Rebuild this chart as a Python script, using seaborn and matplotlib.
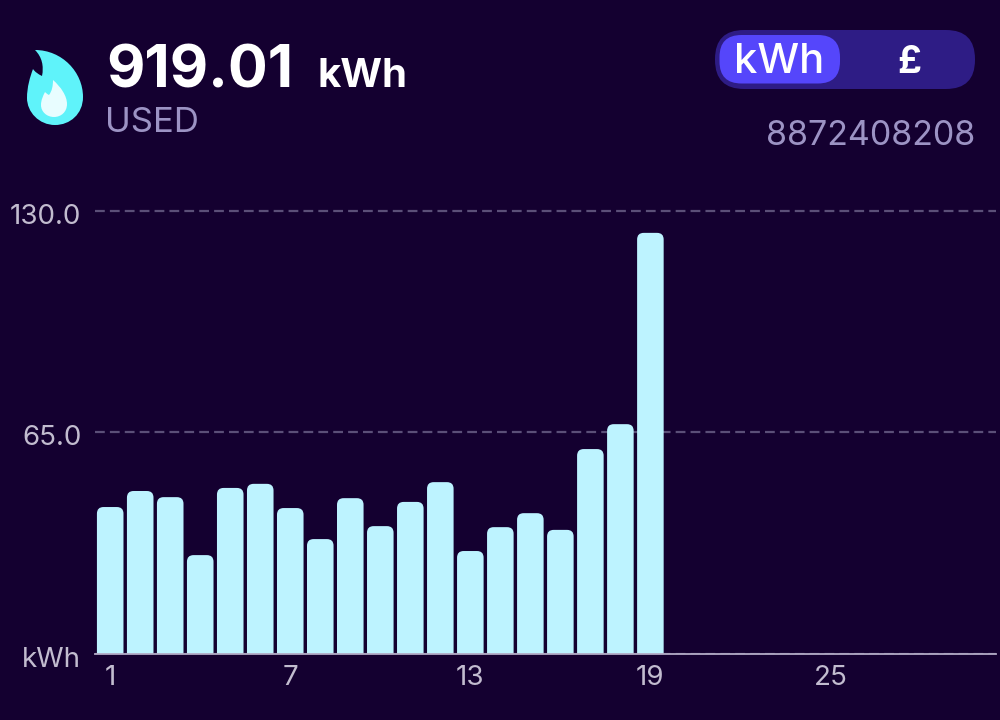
import matplotlib
matplotlib.use("Agg")
import matplotlib.pyplot as plt
from matplotlib.patches import FancyBboxPatch, PathPatch
from matplotlib.path import Path
from matplotlib.transforms import ScaledTranslation
import numpy as np
import pandas as pd
import seaborn as sns

# daily usage, month not finished yet so the last days are empty
days = [str(d) for d in range(1, 31)]
usage = [43.1, 47.8, 46.0, 29.0, 48.7, 49.9, 42.8, 33.7, 45.7, 37.5,
         44.6, 50.4, 30.2, 37.2, 41.3, 36.4, 60.1, 67.4, 123.5,
         np.nan, np.nan, np.nan, np.nan, np.nan, np.nan, np.nan, np.nan, np.nan, np.nan, np.nan]
y_ticks = [0, 65, 130]
y_labels = ["kWh", "65.0", "130.0"]
x_labels = ["1", "7", "13", "19", "25"]

total = "919.01"
unit = "kWh"
used_label = "USED"
meter = "8872408208"
toggle_labels = ["kWh", "£"]

BG = "#140030"
BAR = "#bdf3ff"
MUTED = "#9c93c4"
TICK = "#c2bccf"
GRID = "#5b4f78"

sns.set_theme(style="dark", rc={"figure.facecolor": BG, "axes.facecolor": BG})
plt.rcParams["font.family"] = ["Inter", "DejaVu Sans"]

df = pd.DataFrame({"day": days, "usage": usage})

fig = plt.figure(figsize=(10, 7.2), dpi=100)

# pixel overlay for the header stuff
W, H = 1000, 720
bg = fig.add_axes([0, 0, 1, 1], zorder=0)
bg.set_xlim(0, W)
bg.set_ylim(H, 0)
bg.axis("off")

ax = fig.add_axes([95.2 / W, 1 - 654 / H, (995.5 - 95.2) / W, (654 - 205) / H], zorder=1)
ax.patch.set_alpha(0)
sns.barplot(data=df, x="day", y="usage", color=BAR, width=0.885, saturation=1, ax=ax)
ax.set_xlim(-0.5, 29.5)
ax.set_ylim(0, 449 / 3.41)

# swap the square bars for rounded ones, bottoms hidden below the axis
aspect = (30.0 / 3.41)
for p in list(ax.patches):
    x, w, h = p.get_x(), p.get_width(), p.get_height()
    p.remove()
    if np.isnan(h):
        continue
    ax.add_patch(FancyBboxPatch((x, -5), w, h + 5, boxstyle="round,pad=0,rounding_size=0.22",
                                mutation_aspect=aspect, fc=BAR, ec="none", zorder=3))

ax.set_xlabel("")
ax.set_ylabel("")
ax.set_yticks(y_ticks)
ax.set_yticklabels(y_labels, color=TICK, fontsize=20)
ax.set_xticks([days.index(l) for l in x_labels])
ax.set_xticklabels(x_labels, color=TICK, fontsize=20)
ax.tick_params(axis="both", length=0)
ax.tick_params(axis="x", pad=8)
ax.tick_params(axis="y", pad=10)
# labels sit a little under their lines in the original
shift = ScaledTranslation(0, -3 / 100, fig.dpi_scale_trans)
for t in ax.get_yticklabels():
    t.set_transform(t.get_transform() + shift)
ax.yaxis.grid(True, color=GRID, linestyle=(0, (4.4, 2.3)), linewidth=1.6)
ax.xaxis.grid(False)
ax.set_axisbelow(True)
for s in ["top", "left", "right"]:
    ax.spines[s].set_visible(False)
ax.spines["bottom"].set_color("#b3abc6")
ax.spines["bottom"].set_linewidth(1.3)
ax.spines["bottom"].set_zorder(4)

# flame icon
M, C4, Z = Path.MOVETO, Path.CURVE4, Path.CLOSEPOLY
flame = [(35, 50), (62, 50), (83, 72), (83, 97), (83, 114), (70, 125), (55, 125),
         (39, 125), (27, 112), (27, 98), (27, 87), (30, 77), (33, 69), (35, 72), (38, 74), (42, 76),
         (44, 66), (42, 57), (35, 50), (35, 50)]
flame_codes = [M] + [C4] * 18 + [Z]
bg.add_patch(PathPatch(Path(flame, flame_codes), fc="#5ff3fa", ec="none"))
inner = [(53, 80), (61, 87), (67, 96), (67, 104), (67, 112), (61, 117), (54, 117),
         (47, 117), (41, 112), (41, 105), (41, 100), (43, 96), (45, 92), (46, 93), (47, 94), (49, 95),
         (52, 91), (53, 86), (53, 80), (53, 80)]
bg.add_patch(PathPatch(Path(inner, flame_codes), fc="#e8fdff", ec="none"))

# header text
bg.text(106, 88, total, color="white", fontsize=42.5, fontweight="bold", va="baseline")
bg.text(318, 87, unit, color="white", fontsize=29, fontweight="bold", va="baseline")
bg.text(105, 132, used_label, color=MUTED, fontsize=25, va="baseline")
bg.text(975, 145, meter, color=MUTED, fontsize=24.5, ha="right", va="baseline")

# kWh / £ toggle
bg.add_patch(FancyBboxPatch((715, 30), 260, 59, boxstyle="round,pad=0,rounding_size=29", fc="#2e1c85", ec="none"))
bg.add_patch(FancyBboxPatch((719.5, 35), 120.5, 48.5, boxstyle="round,pad=0,rounding_size=22", fc="#5546fb", ec="none"))
bg.text(779, 73, toggle_labels[0], color="white", fontsize=30, ha="center", va="baseline", fontweight="medium")
bg.text(909, 73, toggle_labels[1], color="white", fontsize=27, ha="center", va="baseline", fontweight="bold")

fig.savefig("out.png", dpi=100, facecolor=BG)
